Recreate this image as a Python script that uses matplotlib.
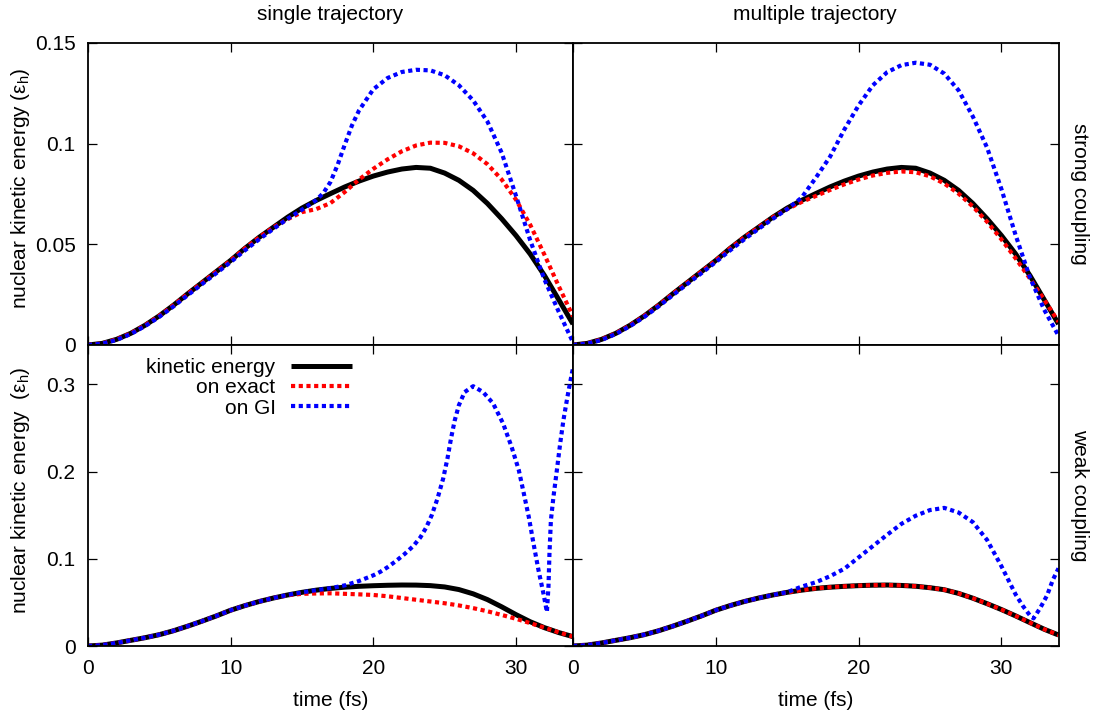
import matplotlib
matplotlib.use("Agg")
import matplotlib.pyplot as plt
from matplotlib.ticker import FuncFormatter, FixedLocator

plt.rcParams['font.family'] = ['Liberation Sans', 'DejaVu Sans']
plt.rcParams['mathtext.fontset'] = 'custom'
plt.rcParams['mathtext.rm'] = 'Liberation Sans'
plt.rcParams['mathtext.it'] = 'Liberation Sans:italic'

# ---------------- data (time in fs, energy in Hartree) ----------------
t = list(range(0, 35))

# strong coupling, exact kinetic energy (same reference in both columns)
kin_strong = [0, 0.0008, 0.0028, 0.0058, 0.0098, 0.0145, 0.0198, 0.0255, 0.031, 0.0365,
              0.042, 0.048, 0.0535, 0.0585, 0.0635, 0.068, 0.0718, 0.0752, 0.0785, 0.0814,
              0.0839, 0.0859, 0.0874, 0.0882, 0.0878, 0.0854, 0.0818, 0.0768, 0.0703, 0.0627,
              0.0544, 0.0452, 0.0345, 0.0225, 0.0104]
exact_strong_single = [0, 0.0008, 0.0028, 0.0058, 0.0098, 0.0145, 0.0198, 0.0255, 0.031, 0.0365,
                       0.042, 0.048, 0.0535, 0.0585, 0.0625, 0.066, 0.0675, 0.0705, 0.076, 0.0822,
                       0.0875, 0.0922, 0.0962, 0.0991, 0.1005, 0.1004, 0.0987, 0.0952, 0.0898, 0.0822,
                       0.0722, 0.0597, 0.0448, 0.0292, 0.0142]
exact_strong_multi = [0, 0.0008, 0.0028, 0.0058, 0.0098, 0.0145, 0.0198, 0.0255, 0.031, 0.0365,
                      0.042, 0.048, 0.0535, 0.0585, 0.0635, 0.0675, 0.071, 0.074, 0.077, 0.0798,
                      0.0822, 0.0842, 0.0855, 0.0862, 0.0858, 0.0838, 0.0802, 0.0752, 0.0688, 0.0612,
                      0.0525, 0.043, 0.033, 0.0225, 0.0115]
t_gi_strong_single = [0, 1, 2, 3, 4, 5, 6, 7, 8, 9, 10, 11, 12, 13, 14, 15, 16, 16.5, 17, 17.5,
                      18, 18.5, 19, 20, 21, 22, 23, 24, 25, 26, 27, 28, 29, 30, 31, 32, 33, 34]
gi_strong_single = [0, 0.0007, 0.0025, 0.0055, 0.0094, 0.014, 0.0192, 0.0248, 0.0303, 0.0357,
                    0.0412, 0.047, 0.0525, 0.0577, 0.0627, 0.0672, 0.072, 0.0755, 0.081, 0.0895,
                    0.0995, 0.109, 0.1165, 0.127, 0.1326, 0.1356, 0.1367, 0.1364, 0.134, 0.129,
                    0.1215, 0.111, 0.0955, 0.0742, 0.052, 0.0325, 0.0165, 0.0013]
gi_strong_multi = [0, 0.0007, 0.0025, 0.0055, 0.0094, 0.014, 0.0192, 0.0248, 0.0303, 0.0357,
                   0.0412, 0.047, 0.0525, 0.0577, 0.0627, 0.0675, 0.0731, 0.083, 0.0935, 0.107,
                   0.119, 0.129, 0.1355, 0.139, 0.1402, 0.1392, 0.1348, 0.1265, 0.1135, 0.098,
                   0.0775, 0.0545, 0.0335, 0.0175, 0.0046]

# weak coupling
kin_weak_single = [0, 0.001, 0.0035, 0.0065, 0.0095, 0.013, 0.0175, 0.0228, 0.0285, 0.0345,
                   0.041, 0.0463, 0.051, 0.055, 0.0585, 0.0615, 0.064, 0.066, 0.0674, 0.0684,
                   0.0691, 0.0696, 0.0699, 0.0698, 0.0692, 0.0677, 0.0647, 0.0598, 0.0532, 0.0449,
                   0.036, 0.0278, 0.021, 0.0154, 0.0107]
exact_weak_single = [0, 0.001, 0.0035, 0.0065, 0.0095, 0.013, 0.0175, 0.0228, 0.0285, 0.0345,
                     0.041, 0.0463, 0.051, 0.055, 0.0582, 0.0598, 0.0602, 0.0604, 0.0598, 0.0592,
                     0.0585, 0.057, 0.055, 0.053, 0.051, 0.049, 0.0465, 0.0434, 0.0398, 0.0356,
                     0.0312, 0.0262, 0.021, 0.0157, 0.0107]
t_gi_weak_single = [0, 1, 2, 3, 4, 5, 6, 7, 8, 9, 10, 11, 12, 13, 14, 15, 16, 17, 18, 19, 20,
                    20.5, 21, 21.6, 22.2, 22.8, 23.3, 23.7, 24.1, 24.5, 24.9, 25.2, 25.45, 25.7,
                    26.0, 26.4, 27.0, 27.7, 28.4, 29.1, 29.7, 30.2, 30.55, 30.9, 31.23, 31.58,
                    31.93, 32.17, 32.28, 32.35, 32.45, 32.63, 32.87, 33.1, 33.33, 33.61, 33.92, 34]
gi_weak_single = [0, 0.001, 0.0035, 0.0065, 0.0095, 0.013, 0.0175, 0.0228, 0.0285, 0.0345,
                  0.041, 0.0463, 0.051, 0.055, 0.0585, 0.0615, 0.064, 0.0663, 0.0695, 0.0745, 0.081,
                  0.0851, 0.0903, 0.0975, 0.1055, 0.1145, 0.1245, 0.1355, 0.150, 0.169, 0.192,
                  0.215, 0.238, 0.258, 0.276, 0.291, 0.2978, 0.291, 0.278, 0.255, 0.228, 0.2016,
                  0.175, 0.148, 0.1176, 0.087, 0.060, 0.039, 0.068, 0.106, 0.144, 0.171, 0.2016,
                  0.232, 0.259, 0.2856, 0.3124, 0.318]
kin_weak_multi = [0, 0.001, 0.0035, 0.0065, 0.0095, 0.013, 0.0175, 0.0228, 0.0285, 0.0345,
                  0.041, 0.0463, 0.051, 0.055, 0.0585, 0.0615, 0.064, 0.066, 0.0674, 0.0684,
                  0.0692, 0.0697, 0.0699, 0.0694, 0.0685, 0.0668, 0.0645, 0.0603, 0.0548, 0.0485,
                  0.0418, 0.0345, 0.0268, 0.0192, 0.0126]
exact_weak_multi = [0, 0.001, 0.0035, 0.0065, 0.0095, 0.013, 0.0175, 0.0228, 0.0285, 0.0345,
                    0.041, 0.0463, 0.051, 0.055, 0.0585, 0.0615, 0.064, 0.066, 0.0674, 0.0684,
                    0.0692, 0.0697, 0.0699, 0.0694, 0.0685, 0.0668, 0.0645, 0.0603, 0.0548, 0.0485,
                    0.0418, 0.0345, 0.0268, 0.0192, 0.0126]
t_gi_weak_multi = [0, 1, 2, 3, 4, 5, 6, 7, 8, 9, 10, 11, 12, 13, 14, 15, 16, 17, 18, 19, 20,
                   21, 22, 23, 24, 25, 26, 27, 28, 29, 30, 31, 31.5, 32, 32.25, 32.7, 33.2, 33.6, 34]
gi_weak_multi = [0, 0.001, 0.0035, 0.0065, 0.0095, 0.013, 0.0175, 0.0228, 0.0285, 0.0345,
                 0.041, 0.0463, 0.051, 0.055, 0.0585, 0.0617, 0.068, 0.073, 0.080, 0.0885, 0.1015,
                 0.1145, 0.1275, 0.140, 0.1493, 0.1558, 0.1583, 0.153, 0.142, 0.1215, 0.0915,
                 0.059, 0.046, 0.035, 0.0317, 0.043, 0.058, 0.0756, 0.089]

col_titles = ["single trajectory", "multiple trajectory"]
row_titles = ["strong coupling", "weak coupling"]
legend_labels = ["kinetic energy", "on exact", "on GI"]
x_ticks = [0, 10, 20, 30]
y_ticks_top = [0, 0.05, 0.1, 0.15]
y_ticks_bottom = [0, 0.1, 0.2, 0.3]

# ---------------- layout ----------------
W, H = 1099, 717
fig = plt.figure(figsize=(W / 100, H / 100), dpi=100)


def px_axes(x0, y0, x1, y1):
    return fig.add_axes([x0 / W, 1 - y1 / H, (x1 - x0) / W, (y1 - y0) / H])


axTL = px_axes(88, 43, 573, 345)
axTR = px_axes(573, 43, 1058.5, 345)
axBL = px_axes(88, 345, 573, 646)
axBR = px_axes(573, 345, 1058.5, 646)

FS = 15
fmt = FuncFormatter(lambda v, p: "%g" % v)

panels = [
    (axTL, t, kin_strong, t, exact_strong_single, t_gi_strong_single, gi_strong_single, 0.15, y_ticks_top),
    (axTR, t, kin_strong, t, exact_strong_multi, t, gi_strong_multi, 0.15, y_ticks_top),
    (axBL, t, kin_weak_single, t, exact_weak_single, t_gi_weak_single, gi_weak_single, 0.345, y_ticks_bottom),
    (axBR, t, kin_weak_multi, t, exact_weak_multi, t_gi_weak_multi, gi_weak_multi, 0.345, y_ticks_bottom),
]

dot = (0, (1.0, 0.85))
lines = None
for i, (ax, tk, k, te, e, tg, g, ymax, yt) in enumerate(panels):
    l1, = ax.plot(tk, k, color='black', lw=3.6, solid_capstyle='butt',
                  solid_joinstyle='round', label=legend_labels[0])
    l2, = ax.plot(te, e, color='#ff0000', lw=3.0, linestyle=dot, label=legend_labels[1])
    l3, = ax.plot(tg, g, color='#0000ff', lw=3.0, linestyle=dot, label=legend_labels[2])
    if lines is None:
        lines = [l1, l2, l3]
    ax.set_xlim(0, 34)
    ax.set_ylim(0, ymax)
    ax.xaxis.set_major_locator(FixedLocator(x_ticks))
    ax.yaxis.set_major_locator(FixedLocator(yt))
    ax.xaxis.set_major_formatter(fmt)
    ax.yaxis.set_major_formatter(fmt)
    ax.tick_params(direction='in', length=6.5, width=0.9, top=True, right=True,
                   labelsize=FS, colors='black')
    ax.tick_params(axis='y', pad=9)
    ax.tick_params(axis='x', pad=9)
    for s in ax.spines.values():
        s.set_linewidth(1.3)
    left = i % 2 == 0
    bottom = i >= 2
    ax.tick_params(labelleft=left, labelbottom=bottom)
    if bottom:
        ax.set_xlabel("time (fs)", fontsize=FS, labelpad=10)

# y labels
fig.text(21 / W, 1 - 188 / H, "nuclear kinetic energy (ε$_{\\mathrm{h}}$)", rotation=90,
         ha='center', va='center', fontsize=FS)
fig.text(21 / W, 1 - 490 / H, "nuclear kinetic energy  (ε$_{\\mathrm{h}}$)", rotation=90,
         ha='center', va='center', fontsize=FS)

# column titles
fig.text(330 / W, 1 - 14 / H, col_titles[0], ha='center', va='center', fontsize=FS)
fig.text(815 / W, 1 - 14 / H, col_titles[1], ha='center', va='center', fontsize=FS)

# row titles
fig.text(1080 / W, 1 - 194 / H, row_titles[0], rotation=-90, ha='center', va='center', fontsize=FS)
fig.text(1080 / W, 1 - 495 / H, row_titles[1], rotation=-90, ha='center', va='center', fontsize=FS)

# legend
fig.legend(lines, legend_labels, loc='upper right', bbox_to_anchor=(362 / W, 1 - 348 / H),
           bbox_transform=fig.transFigure, frameon=False, markerfirst=False,
           borderpad=0, handlelength=2.9, handletextpad=0.75, labelspacing=0.05,
           fontsize=FS)

fig.savefig("out.png", dpi=100)
